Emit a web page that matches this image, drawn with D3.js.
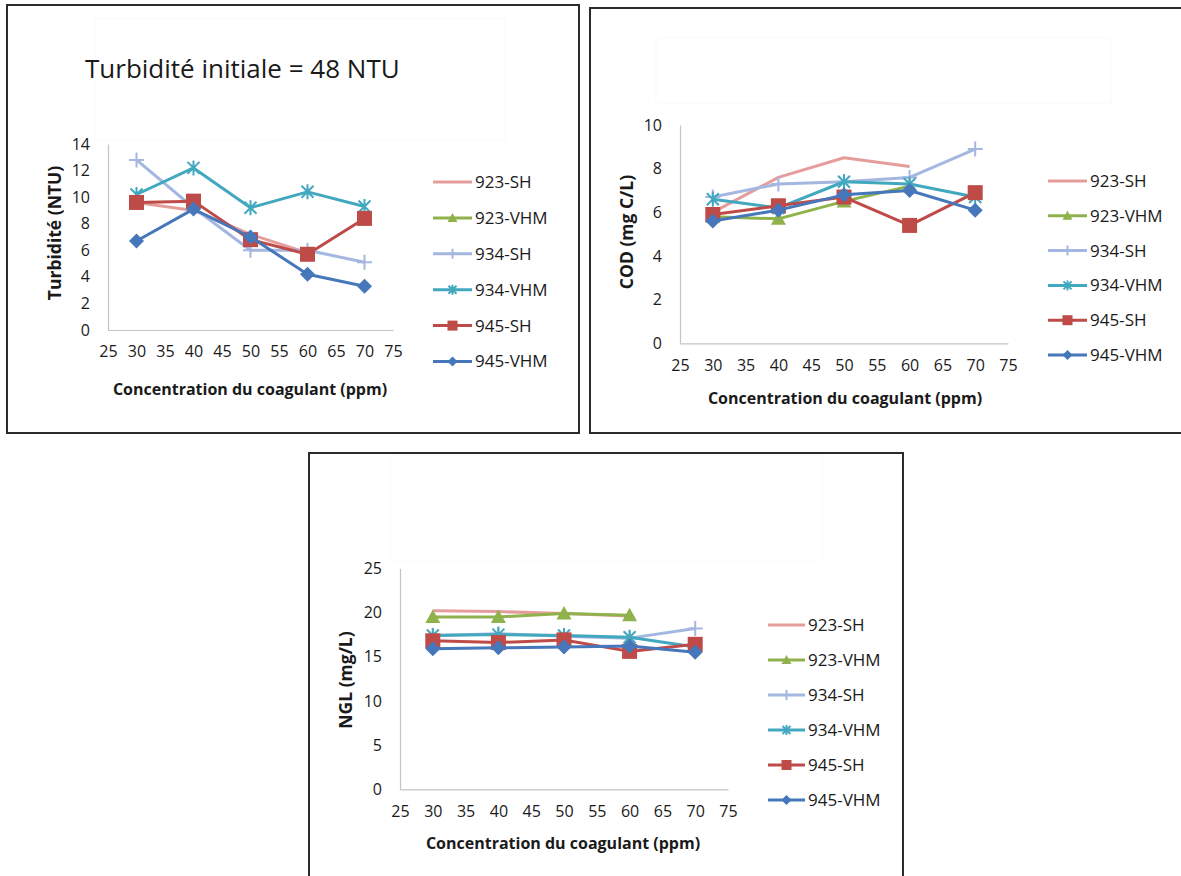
<!DOCTYPE html>
<html><head><meta charset="utf-8">
<script src="https://cdn.jsdelivr.net/npm/d3@7"></script>
<style>
body{margin:0;background:#fff}
svg{display:block}
text{font-family:"Open Sans",Lato,sans-serif;fill:#1a1a1a}
</style>
</head><body>
<svg id="c" width="1181" height="876"></svg>
<script>
// ---------- data ----------
const concentrations = [30, 40, 50, 60, 70];
const seriesNames = ["923-SH", "923-VHM", "934-SH", "934-VHM", "945-SH", "945-VHM"];
const xTickValues = [25, 30, 35, 40, 45, 50, 55, 60, 65, 70, 75];
const turbidityTicks = [0, 2, 4, 6, 8, 10, 12, 14];
const codTicks = [0, 2, 4, 6, 8, 10];
const nglTicks = [0, 5, 10, 15, 20, 25];

// one row per series, one value per concentration (null = no point)
const turbidityValues = [
  [9.6, 9.0, 7.2, 5.8, null],
  [null, null, null, null, null],
  [12.8, 9.2, 6.0, 6.0, 5.1],
  [10.2, 12.2, 9.2, 10.4, 9.3],
  [9.6, 9.7, 6.8, 5.7, 8.4],
  [6.7, 9.1, 7.0, 4.2, 3.3]
];
const codValues = [
  [6.0, 7.6, 8.5, 8.1, null],
  [5.8, 5.7, 6.5, 7.2, null],
  [6.7, 7.3, 7.4, 7.6, 8.9],
  [6.6, 6.2, 7.4, 7.3, 6.7],
  [5.9, 6.3, 6.7, 5.4, 6.9],
  [5.6, 6.1, 6.8, 7.0, 6.1]
];
const nglValues = [
  [20.2, 20.1, 19.9, 19.6, null],
  [19.5, 19.5, 19.9, 19.7, null],
  [17.4, 17.6, 17.3, 17.1, 18.2],
  [17.4, 17.5, 17.4, 17.2, 16.1],
  [16.8, 16.6, 16.9, 15.6, 16.4],
  [15.9, 16.0, 16.1, 16.2, 15.5]
];

// ---------- styles ----------
const seriesColors = ["#e59d9b", "#8fb24c", "#a3b7e0", "#42a8bf", "#be4b48", "#4677ba"];
const seriesMarkers = ["none", "triangle", "plus", "star", "square", "diamond"];

const svg = d3.select("#c");

function drawMarker(g, type, color, s) {
  if (type === "triangle") {
    g.append("path").attr("d", `M0,${-s} L${s},${s*0.8} L${-s},${s*0.8}Z`).attr("fill", color);
  } else if (type === "square") {
    g.append("rect").attr("x", -s).attr("y", -s).attr("width", 2*s).attr("height", 2*s).attr("fill", color);
  } else if (type === "diamond") {
    g.append("path").attr("d", `M0,${-s} L${s},0 L0,${s} L${-s},0Z`).attr("fill", color);
  } else if (type === "plus") {
    g.append("path").attr("d", `M${-s},0 L${s},0 M0,${-s} L0,${s}`)
      .attr("stroke", color).attr("stroke-width", 2).attr("fill", "none");
  } else if (type === "star") {
    const k = s * 0.8;
    g.append("path").attr("d", `M0,${-s} L0,${s} M${-k},${-k} L${k},${k} M${-k},${k} L${k},${-k}`)
      .attr("stroke", color).attr("stroke-width", 2).attr("fill", "none");
  }
}

function drawPanel(cfg) {
  const g = svg.append("g");
  g.append("rect").attr("x", cfg.box[0]).attr("y", cfg.box[1]).attr("width", cfg.box[2]).attr("height", cfg.box[3])
    .attr("fill", "#fff").attr("stroke", "#2b2b2b").attr("stroke-width", 2);
  g.append("rect").attr("x", cfg.ghost[0]).attr("y", cfg.ghost[1]).attr("width", cfg.ghost[2]).attr("height", cfg.ghost[3])
    .attr("fill", "none").attr("stroke", "#fafafa").attr("stroke-width", 1);

  const x = d3.scaleLinear().domain([25, 75]).range([cfg.xr[0], cfg.xr[1]]);
  const y = d3.scaleLinear().domain([0, cfg.yMax]).range([cfg.yr[0], cfg.yr[1]]);

  const yAxis = g.append("g").attr("transform", `translate(${cfg.xr[0]},0)`)
    .call(d3.axisLeft(y).tickValues(cfg.yTicks).tickSize(0).tickSizeOuter(0).tickPadding(18));
  const xAxis = g.append("g").attr("transform", `translate(0,${cfg.yr[0]})`)
    .call(d3.axisBottom(x).tickValues(xTickValues).tickSize(0).tickSizeOuter(0).tickPadding(16));
  [xAxis, yAxis].forEach(a => {
    a.select(".domain").attr("stroke", "#c4c4c4").attr("stroke-width", 1.2);
    a.selectAll("text").style("font-family", "'Open Sans', Lato, sans-serif").style("font-size", "16px").attr("fill", "#262626");
  });

  g.append("text").attr("x", cfg.xTitle[0]).attr("y", cfg.xTitle[1]).attr("text-anchor", "middle")
    .style("font-size", "16px").style("font-weight", "bold").text("Concentration du coagulant (ppm)");
  g.append("text").attr("transform", `translate(${cfg.yTitle[0]},${cfg.yTitle[1]}) rotate(-90)`).attr("text-anchor", "middle")
    .style("font-size", "17.5px").style("font-weight", "bold").text(cfg.yLabel);

  const line = d3.line().defined(d => d.v != null).x(d => x(d.c)).y(d => y(d.v));
  cfg.values.forEach((vals, i) => {
    const pts = concentrations.map((c, j) => ({c: c, v: vals[j]}));
    const sg = g.append("g");
    sg.append("path").datum(pts).attr("d", line).attr("fill", "none")
      .attr("stroke", seriesColors[i]).attr("stroke-width", 3).attr("stroke-linejoin", "round");
    pts.filter(d => d.v != null).forEach(d => {
      const mg = sg.append("g").attr("transform", `translate(${x(d.c)},${y(d.v)})`);
      drawMarker(mg, seriesMarkers[i], seriesColors[i], 7.5);
    });
  });

  seriesNames.forEach((name, i) => {
    const ly = cfg.legend.y0 + i * cfg.legend.dy;
    g.append("line").attr("x1", cfg.legend.x0).attr("x2", cfg.legend.x1).attr("y1", ly).attr("y2", ly)
      .attr("stroke", seriesColors[i]).attr("stroke-width", 3);
    const mg = g.append("g").attr("transform", `translate(${(cfg.legend.x0 + cfg.legend.x1) / 2},${ly})`);
    drawMarker(mg, seriesMarkers[i], seriesColors[i], 5);
    g.append("text").attr("x", cfg.legend.tx).attr("y", ly).attr("dy", "0.35em")
      .style("font-size", "17px").text(name);
  });

  if (cfg.title) {
    g.append("text").attr("x", cfg.title[0]).attr("y", cfg.title[1]).style("font-size", "26px").text(cfg.titleText);
  }
}

drawPanel({
  box: [7, 5, 572, 428], ghost: [95, 18, 410, 122],
  xr: [108, 393], yr: [330, 144], yMax: 14, yTicks: turbidityTicks,
  values: turbidityValues, yLabel: "Turbidité (NTU)",
  xTitle: [250, 395], yTitle: [61, 233],
  legend: {x0: 433, x1: 472, tx: 475, y0: 182, dy: 35.9},
  title: [85, 78], titleText: "Turbidité initiale = 48 NTU"
});
drawPanel({
  box: [590, 8, 595, 425], ghost: [656, 38, 455, 65],
  xr: [680, 1008], yr: [343.3, 125], yMax: 10, yTicks: codTicks,
  values: codValues, yLabel: "COD (mg C/L)",
  xTitle: [845, 404], yTitle: [633, 232],
  legend: {x0: 1048, x1: 1087, tx: 1090, y0: 181, dy: 34.8}
});
drawPanel({
  box: [309, 453, 594, 430], ghost: [390, 455, 432, 105],
  xr: [400, 728], yr: [789.3, 568.3], yMax: 25, yTicks: nglTicks,
  values: nglValues, yLabel: "NGL (mg/L)",
  xTitle: [563, 849], yTitle: [352, 680],
  legend: {x0: 768, x1: 805, tx: 808, y0: 625, dy: 35}
});
</script>
</body></html>
